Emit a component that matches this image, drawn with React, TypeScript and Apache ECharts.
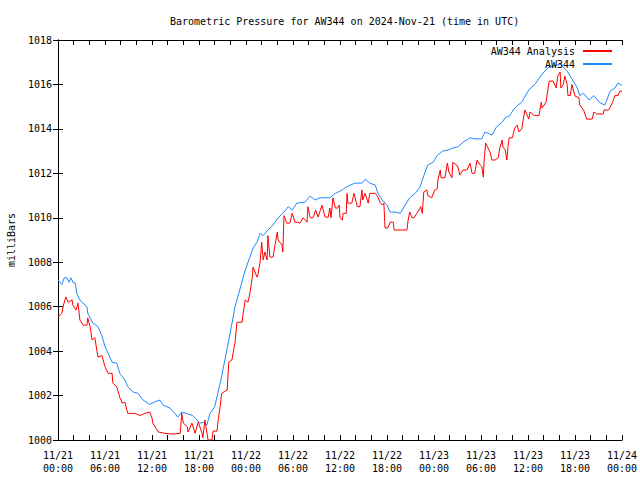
import React, { useEffect, useRef } from "react";
import * as echarts from "echarts";

// hours since 2024-11-21 00:00 UTC
const stationHours = [
  0, 0.25, 0.5, 0.8, 1.15, 1.4, 1.65, 1.9, 2.2, 2.4, 2.8, 3.06, 3.7, 3.8, 4.47, 5.1, 5.6, 6.0, 6.4, 6.9,
  7.5, 7.9, 8.55, 8.9, 9.6, 10.2, 10.85, 11.7, 12.25, 13.0, 13.4, 14.3, 15.3, 15.8, 17.2, 17.75, 18.1, 18.75, 19.0, 19.4,
  20.0, 20.4, 20.8, 21.3, 22.0, 22.6, 23.2, 23.9, 24.5, 24.9, 25.4, 25.8, 26.2, 26.8, 27.45, 28.1, 28.7, 29.4, 29.9, 30.5,
  31.5, 32.2, 32.8, 33.45, 34.1, 34.7, 35.4, 36.3, 36.6, 37.3, 37.9, 38.8, 39.2, 39.8, 40.5, 40.85, 41.4, 42.0, 42.4, 43.0,
  43.7, 44.3, 44.9, 45.6, 46.2, 46.7, 47.2, 47.9, 48.4, 49.1, 49.8, 50.4, 51.1, 51.7, 52.6, 53.2, 54.1, 54.5, 54.9, 55.4,
  56.0, 56.7, 57.1, 57.7, 58.1, 58.7, 59.2, 60.1, 61.0, 61.8, 62.7, 63.6, 64.2, 65.0, 65.6, 66.3, 66.6, 67.1, 67.8, 68.4,
  69.1, 69.8, 70.5, 71.1, 71.5, 72.0,
];
const stationPressure = [
  1007.2, 1007.1, 1007.0, 1007.3, 1007.3, 1007.1, 1007.3, 1007.1, 1007.06, 1006.6, 1006.3, 1006.2, 1006.0, 1005.7, 1005.26, 1005.1, 1004.7, 1004.2, 1003.9, 1003.5,
  1003.46, 1003.0, 1002.7, 1002.4, 1002.16, 1002.1, 1001.8, 1001.6, 1001.7, 1001.8, 1001.57, 1001.44, 1001.03, 1001.26, 1001.1, 1000.9, 1000.76, 1000.8, 1000.67, 1001.2,
  1001.5, 1002.1, 1002.7, 1003.6, 1004.86, 1006.0, 1006.75, 1007.65, 1008.23, 1008.64, 1008.9, 1009.3, 1009.2, 1009.45, 1009.67, 1010.0, 1010.2, 1010.5, 1010.35, 1010.66,
  1010.7, 1010.98, 1010.8, 1010.9, 1010.9, 1010.9, 1011.1, 1011.25, 1011.34, 1011.47, 1011.56, 1011.56, 1011.74, 1011.56, 1011.47, 1011.1, 1010.8, 1010.57, 1010.26, 1010.26,
  1010.2, 1010.57, 1010.9, 1011.1, 1011.38, 1011.9, 1012.37, 1012.5, 1012.8, 1013.0, 1013.05, 1013.14, 1013.2, 1013.4, 1013.6, 1013.55, 1013.55, 1013.86, 1013.8, 1013.72,
  1014.1, 1014.3, 1014.5, 1014.6, 1014.85, 1015.07, 1015.2, 1015.75, 1016.06, 1016.47, 1016.8, 1016.87, 1016.9, 1016.6, 1016.25, 1015.84, 1015.5, 1015.6, 1015.3, 1015.5,
  1015.2, 1015.07, 1015.7, 1015.84, 1016.06, 1015.95,
];

const analysisHours = [
  0, 0.5, 0.65, 1.0, 1.3, 1.8, 1.9, 2.3, 2.55, 2.8, 3.2, 3.7, 3.8, 4.1, 4.35, 4.7, 5.1, 5.6, 6.0, 6.4,
  6.9, 7.0, 7.5, 7.9, 8.2, 8.55, 8.9, 9.8, 10.5, 11.1, 11.7, 12.0, 12.1, 12.8, 13.65, 14.7, 15.6, 15.8, 16.0, 16.5,
  16.6, 17.1, 17.5, 17.9, 18.4, 18.5, 18.75, 19.15, 19.65, 19.8, 20.3, 20.4, 20.7, 20.9, 21.6, 21.8, 22.2, 22.35, 22.6, 22.85,
  23.5, 23.6, 23.9, 24.25, 24.5, 24.8, 24.9, 25.4, 25.5, 25.8, 26.0, 26.2, 26.4, 26.7, 26.8, 27.05, 27.45, 27.7, 28.0, 28.1,
  28.6, 28.7, 28.85, 29.2, 29.6, 29.9, 30.25, 30.6, 30.9, 31.3, 31.8, 31.9, 32.2, 32.55, 32.9, 33.2, 33.7, 34.1, 34.5, 34.7,
  34.85, 35.1, 35.4, 35.7, 35.9, 36.0, 36.3, 36.4, 36.8, 36.9, 37.0, 37.5, 37.8, 38.2, 38.55, 38.8, 38.9, 39.2, 39.6, 39.8,
  40.5, 40.85, 41.1, 41.4, 41.6, 41.75, 42.1, 42.4, 42.8, 42.9, 44.0, 44.55, 44.7, 44.9, 45.2, 45.45, 45.8, 46.1, 46.3, 46.5,
  46.7, 47.1, 47.2, 47.7, 48.1, 48.4, 48.5, 48.8, 48.9, 49.4, 49.7, 49.9, 50.3, 50.4, 50.9, 51.1, 51.3, 51.7, 52.2, 52.6,
  52.85, 53.2, 53.5, 53.9, 54.1, 54.3, 54.4, 54.6, 54.9, 55.15, 55.4, 55.8, 56.2, 56.4, 56.7, 56.8, 57.1, 57.3, 57.45, 57.6,
  58.0, 58.3, 58.6, 58.85, 59.2, 59.6, 60.1, 60.25, 60.8, 61.4, 61.7, 61.8, 62.3, 62.7, 63.2, 63.6, 63.8, 64.1, 64.2, 64.5,
  64.7, 65.0, 65.1, 65.4, 65.6, 66.0, 66.5, 66.6, 67.1, 67.5, 68.2, 68.4, 68.8, 69.6, 69.7, 70.3, 70.8, 71.1, 71.5, 71.7,
  72.0,
];
const analysisPressure = [
  1005.53, 1005.7, 1006.0, 1006.44, 1006.2, 1006.3, 1006.07, 1005.85, 1006.16, 1005.4, 1005.17, 1005.17, 1005.5, 1005.1, 1004.5, 1004.6, 1003.73, 1003.8, 1003.3, 1003.0,
  1003.0, 1002.56, 1002.4, 1001.9, 1001.66, 1001.7, 1001.2, 1001.2, 1001.1, 1001.2, 1001.26, 1001.0, 1000.76, 1000.36, 1000.3, 1000.27, 1000.3, 1001.2, 1000.76, 1000.6,
  1000.36, 1000.76, 1000.3, 1000.8, 1000.3, 1000.1, 1000.9, 1000.0, 1000.0, 1000.4, 1000.4, 1000.76, 1001.5, 1002.1, 1002.25, 1003.5, 1003.6, 1003.9, 1004.4, 1005.3,
  1005.3, 1005.6, 1006.3, 1006.2, 1006.6, 1007.33, 1007.78, 1007.33, 1007.4, 1008.0, 1008.9, 1008.1, 1008.46, 1008.1, 1009.2, 1008.23, 1008.23, 1008.77, 1009.36, 1009.0,
  1008.77, 1008.46, 1010.1, 1009.76, 1009.76, 1010.2, 1009.8, 1009.8, 1009.76, 1010.0, 1009.8, 1010.5, 1010.0, 1010.0, 1010.35, 1010.03, 1010.57, 1010.03, 1010.03, 1010.44,
  1010.0, 1010.9, 1010.44, 1010.44, 1010.57, 1010.0, 1009.9, 1010.2, 1010.2, 1011.1, 1010.66, 1010.66, 1011.1, 1010.5, 1010.5, 1011.25, 1010.8, 1011.1, 1010.66, 1011.1,
  1011.1, 1010.93, 1010.7, 1010.57, 1010.66, 1009.54, 1009.54, 1009.8, 1009.8, 1009.45, 1009.45, 1009.45, 1009.9, 1010.26, 1010.0, 1010.0, 1010.2, 1010.35, 1010.5, 1010.2,
  1011.16, 1011.25, 1011.0, 1010.9, 1011.25, 1011.3, 1011.7, 1012.15, 1011.8, 1011.8, 1012.46, 1012.06, 1011.8, 1012.5, 1012.37, 1012.24, 1011.92, 1012.15, 1012.15, 1012.46,
  1012.0, 1012.0, 1012.6, 1012.37, 1012.3, 1011.83, 1012.6, 1013.36, 1013.14, 1012.96, 1012.6, 1012.6, 1012.7, 1013.14, 1013.5, 1013.2, 1013.05, 1012.6, 1013.2, 1013.6,
  1013.6, 1014.04, 1014.17, 1013.86, 1014.0, 1014.85, 1014.44, 1014.76, 1014.6, 1014.6, 1015.2, 1014.94, 1015.2, 1016.15, 1016.15, 1015.84, 1016.38, 1016.56, 1015.84, 1016.0,
  1016.38, 1016.0, 1015.5, 1015.5, 1016.0, 1015.48, 1015.4, 1015.07, 1014.85, 1014.44, 1014.44, 1014.76, 1014.67, 1014.67, 1014.85, 1014.85, 1015.2, 1015.5, 1015.5, 1015.7,
  1015.7,
];

const xTickLabels = [
  "11/21\n00:00", "11/21\n06:00", "11/21\n12:00", "11/21\n18:00",
  "11/22\n00:00", "11/22\n06:00", "11/22\n12:00", "11/22\n18:00",
  "11/23\n00:00", "11/23\n06:00", "11/23\n12:00", "11/23\n18:00",
  "11/24\n00:00",
];

const MONO = "'DejaVu Sans Mono', 'Liberation Mono', monospace";

export default function App() {
  const ref = useRef<HTMLDivElement>(null);
  useEffect(() => {
    if (!ref.current) return;
    const chart = echarts.init(ref.current, null, { renderer: "svg" });
    const pair = (h: number[], v: number[]) => h.map((x, i) => [x, v[i]]);
    const tickCommon = {
      show: true,
      inside: true,
      length: 5,
      lineStyle: { color: "#000", width: 1 },
    };
    chart.setOption({
      animation: false,
      backgroundColor: "#fff",
      title: {
        text: "Barometric Pressure for AW344 on 2024-Nov-21 (time in UTC)",
        left: 165,
        top: 11,
        textStyle: { fontFamily: MONO, fontSize: 10, fontWeight: "normal", color: "#000" },
      },
      legend: {
        data: ["AW344 Analysis", "AW344"],
        orient: "vertical",
        align: "right",
        right: 23,
        top: 41,
        itemWidth: 29,
        itemHeight: 2,
        itemGap: 3,
        icon: "rect",
        textStyle: { fontFamily: MONO, fontSize: 10, color: "#000", padding: [0, 3, 0, 0] },
      },
      grid: { left: 58, right: 18, top: 40, bottom: 40, containLabel: false, outerBoundsMode: "none" },
      xAxis: [
        {
          type: "value",
          min: 0,
          max: 72,
          interval: 2,
          position: "bottom",
          axisLine: { show: true, lineStyle: { color: "#000", width: 1 } },
          axisTick: tickCommon,
          splitLine: { show: false },
          axisLabel: {
            fontFamily: MONO,
            fontSize: 10,
            color: "#000",
            lineHeight: 13,
            margin: 9,
            showMinLabel: true,
            showMaxLabel: true,
            hideOverlap: false,
            formatter: (v: number) => (v % 6 === 0 ? xTickLabels[v / 6] : ""),
          },
        },
        {
          type: "value",
          min: 0,
          max: 72,
          interval: 2,
          position: "top",
          axisLine: { show: true, lineStyle: { color: "#000", width: 1 } },
          axisTick: tickCommon,
          splitLine: { show: false },
          axisLabel: { show: false },
        },
      ],
      yAxis: [
        {
          type: "value",
          min: 1000,
          max: 1018,
          interval: 2,
          position: "left",
          name: "milliBars",
          nameLocation: "middle",
          nameRotate: 90,
          nameGap: 42,
          nameTextStyle: { fontFamily: MONO, fontSize: 10, color: "#000" },
          axisLine: { show: true, lineStyle: { color: "#000", width: 1 } },
          axisTick: tickCommon,
          splitLine: { show: false },
          axisLabel: {
            fontFamily: MONO,
            fontSize: 10,
            color: "#000",
            margin: 6,
            formatter: (v: number) => String(v),
          },
        },
        {
          type: "value",
          min: 1000,
          max: 1018,
          interval: 2,
          position: "right",
          axisLine: { show: true, lineStyle: { color: "#000", width: 1 } },
          axisTick: tickCommon,
          splitLine: { show: false },
          axisLabel: { show: false },
        },
      ],
      series: [
        {
          name: "AW344",
          type: "line",
          data: pair(stationHours, stationPressure),
          showSymbol: false,
          lineStyle: { color: "#1e88ff", width: 1 },
          itemStyle: { color: "#1e88ff" },
          z: 2,
        },
        {
          name: "AW344 Analysis",
          type: "line",
          data: pair(analysisHours, analysisPressure),
          showSymbol: false,
          lineStyle: { color: "#ff0000", width: 1 },
          itemStyle: { color: "#ff0000" },
          z: 3,
        },
      ],
    });
    return () => chart.dispose();
  }, []);
  return (
    <div
      ref={ref}
      style={{ position: "fixed", left: 0, top: 0, width: 640, height: 480, background: "#fff" }}
    />
  );
}
